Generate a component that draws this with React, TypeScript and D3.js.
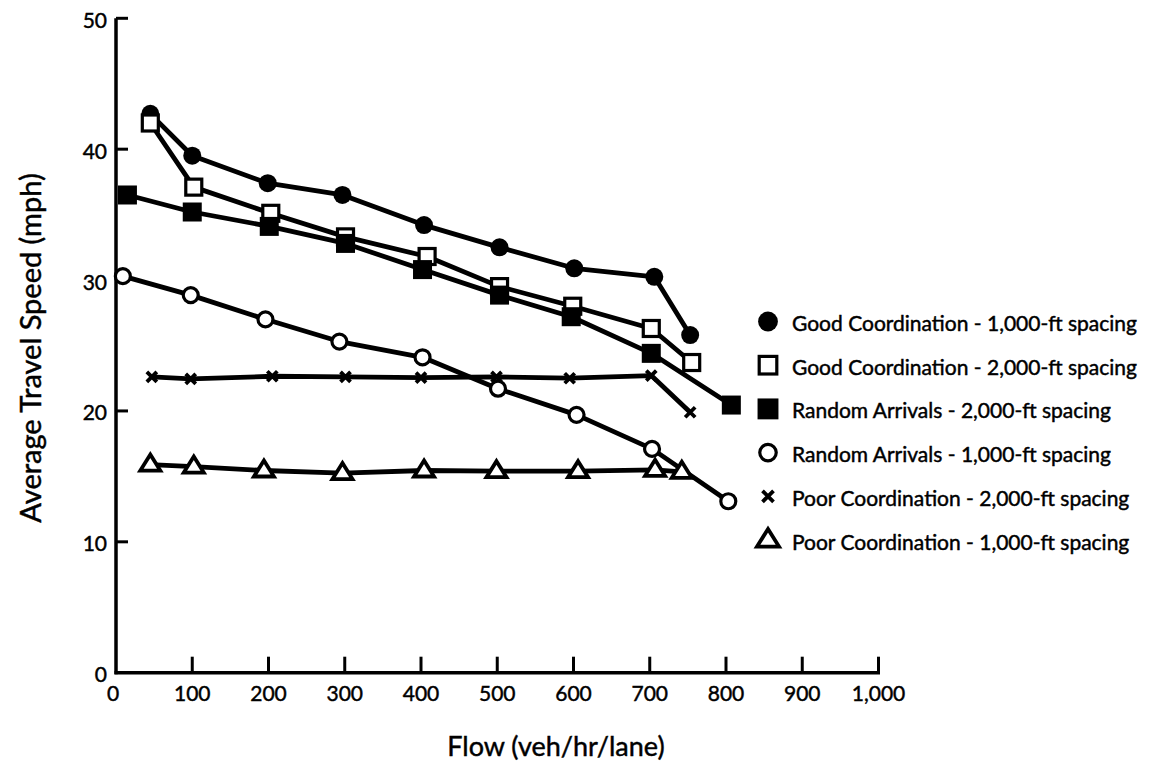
import React from "react";
import * as d3 from "d3";

const xTicks = [0, 100, 200, 300, 400, 500, 600, 700, 800, 900, 1000];
const yTicks = [0, 10, 20, 30, 40, 50];

const goodCoord1000X = [45, 100, 199, 297, 404, 503, 601, 706, 753];
const goodCoord1000Y = [42.7, 39.5, 37.4, 36.5, 34.2, 32.5, 30.9, 30.25, 25.8];

const goodCoord2000X = [45, 102, 203, 301, 408, 503, 599, 702, 755];
const goodCoord2000Y = [42.0, 37.1, 35.1, 33.3, 31.8, 29.5, 28.0, 26.3, 23.7];

const random2000X = [15, 100, 201, 301, 402, 503, 597, 702, 807];
const random2000Y = [36.5, 35.2, 34.1, 32.8, 30.8, 28.85, 27.2, 24.4, 20.45];

const random1000X = [9, 98, 196, 293, 402, 501, 604, 703, 803];
const random1000Y = [30.3, 28.85, 27.0, 25.3, 24.1, 21.7, 19.7, 17.1, 13.1];

const poor2000X = [47, 98, 205, 301, 400, 499, 595, 702, 753];
const poor2000Y = [22.6, 22.45, 22.65, 22.6, 22.55, 22.6, 22.5, 22.7, 19.9];

const poor1000X = [45, 102, 194, 297, 404, 499, 606, 707, 742];
const poor1000Y = [15.9, 15.75, 15.45, 15.25, 15.45, 15.4, 15.4, 15.5, 15.35];

const seriesNames = [
  "Good Coordination - 1,000-ft spacing",
  "Good Coordination - 2,000-ft spacing",
  "Random Arrivals - 2,000-ft spacing",
  "Random Arrivals - 1,000-ft spacing",
  "Poor Coordination - 2,000-ft spacing",
  "Poor Coordination - 1,000-ft spacing",
];
const seriesMarkers = ["fcircle", "osquare", "fsquare", "ocircle", "cross", "triangle"];
const seriesX = [goodCoord1000X, goodCoord2000X, random2000X, random1000X, poor2000X, poor1000X];
const seriesY = [goodCoord1000Y, goodCoord2000Y, random2000Y, random1000Y, poor2000Y, poor1000Y];

const FONT = "Lato, 'Open Sans', sans-serif";

function Marker({ kind, x, y, s = 1 }: { kind: string; x: number; y: number; s?: number }) {
  switch (kind) {
    case "fcircle":
      return <circle cx={x} cy={y} r={9 * s} fill="#000" />;
    case "ocircle":
      return <circle cx={x} cy={y} r={7.5 * s} fill="#fff" stroke="#000" strokeWidth={3.2} />;
    case "osquare": {
      const h = 8 * s;
      return <rect x={x - h} y={y - h} width={2 * h} height={2 * h} fill="#fff" stroke="#000" strokeWidth={3.2} />;
    }
    case "fsquare": {
      const h = 9.5 * s;
      return <rect x={x - h} y={y - h} width={2 * h} height={2 * h} fill="#000" />;
    }
    case "cross": {
      const h = 5 * s;
      return (
        <path d={`M${x - h},${y - h}L${x + h},${y + h}M${x - h},${y + h}L${x + h},${y - h}`} stroke="#000" strokeWidth={3.8} />
      );
    }
    case "triangle": {
      const w = 10 * s;
      const top = y - 10 * s;
      const bot = y + 6 * s;
      return (
        <path d={`M${x},${top}L${x + w},${bot}L${x - w},${bot}Z`} fill="#fff" stroke="#000" strokeWidth={3.8} strokeLinejoin="miter" />
      );
    }
  }
  return null;
}

export default function App() {
  const W = 1159;
  const H = 761;
  const x = d3.scaleLinear().domain([0, 1000]).range([116, 878.5]);
  const y = d3.scaleLinear().domain([0, 50]).range([672.7, 18.3]);
  const line = d3
    .line<[number, number]>()
    .x((d) => x(d[0]))
    .y((d) => y(d[1]));

  const legendX = 768;
  const legendY0 = 321.5;
  const legendStep = 43.7;
  const textStroke = { stroke: "#000", strokeWidth: 0.45 };

  return (
    <svg width={W} height={H} style={{ position: "absolute", left: 0, top: 0, background: "#fff" }} fontFamily={FONT}>
      <rect width={W} height={H} fill="#fff" />
      {/* axes */}
      <line x1={x(0)} x2={x(0)} y1={y(50)} y2={y(0) + 1.5} stroke="#000" strokeWidth={3.5} />
      <line x1={x(0) - 1.5} x2={x(1000) + 1.5} y1={y(0)} y2={y(0)} stroke="#000" strokeWidth={3.5} />
      {yTicks.map((t) => (
        <g key={"yt" + t}>
          {t > 0 && <line x1={x(0)} x2={x(0) + 12} y1={y(t)} y2={y(t)} stroke="#000" strokeWidth={3} />}
          <text x={107} y={y(t) + 1} textAnchor="end" dominantBaseline="central" fontSize={21} fill="#000" {...textStroke}>
            {t}
          </text>
        </g>
      ))}
      {xTicks.map((t) => (
        <g key={"xt" + t}>
          {t > 0 && <line x1={x(t)} x2={x(t)} y1={y(0)} y2={y(0) - 16} stroke="#000" strokeWidth={3} />}
          <text x={x(t) - (t === 0 ? 3 : 0)} y={692} textAnchor="middle" dominantBaseline="central" fontSize={21} fill="#000" {...textStroke}>
            {d3.format(",")(t)}
          </text>
        </g>
      ))}
      <text x={556} y={745} textAnchor="middle" dominantBaseline="central" fontSize={27} fill="#000" {...textStroke}>
        Flow (veh/hr/lane)
      </text>
      <text
        transform={`translate(29, 348) rotate(-90)`}
        textAnchor="middle"
        dominantBaseline="central"
        fontSize={29}
        fill="#000"
        {...textStroke}
      >
        Average Travel Speed (mph)
      </text>

      {/* series lines */}
      {seriesX.map((xs, i) => {
        const pts: [number, number][] = xs.map((v, j) => [v, seriesY[i][j]]);
        return (
          <path key={"l" + i} d={line(pts) || ""} fill="none" stroke="#000" strokeWidth={4.8} strokeLinejoin="round" />
        );
      })}
      {/* markers */}
      {seriesX.map((xs, i) =>
        xs.map((v, j) => <Marker key={`m${i}-${j}`} kind={seriesMarkers[i]} x={x(v)} y={y(seriesY[i][j])} />)
      )}

      {/* legend */}
      {seriesNames.map((name, i) => {
        const cy = legendY0 + i * legendStep;
        return (
          <g key={"lg" + i}>
            <Marker kind={seriesMarkers[i]} x={legendX} y={cy} s={1.1} />
            <text x={792} y={cy + 1} dominantBaseline="central" fontSize={21} fill="#000" {...textStroke}>
              {name}
            </text>
          </g>
        );
      })}
    </svg>
  );
}
